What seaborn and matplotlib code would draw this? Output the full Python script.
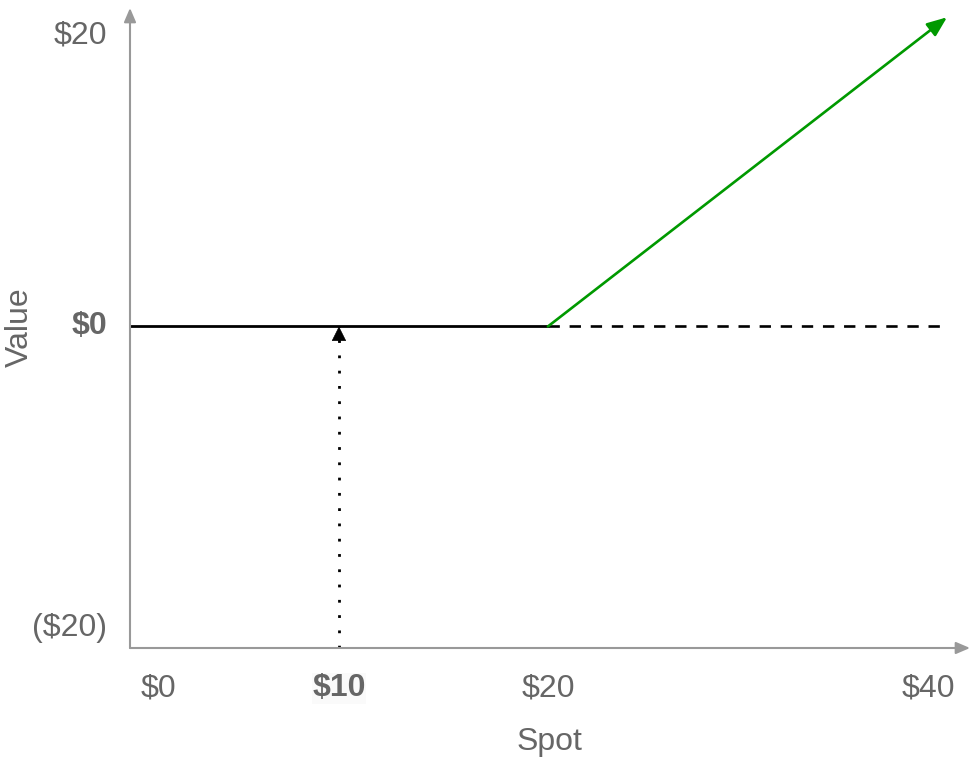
import matplotlib
matplotlib.use("Agg")
import matplotlib.pyplot as plt
import seaborn as sns
import pandas as pd

# ---- data ----
flat_x = [0, 20]
flat_y = [0, 0]
payoff_x = [20, 39.1]
payoff_y = [0, 20]
dashed_x = [20, 39.1]
dashed_y = [0, 0]
strike_x = [10, 10]
strike_y = [-20.8, 0]

xtick_labels = ["$0", "$10", "$20", "$40"]
ytick_labels = ["$20", "$0", "($20)"]

# label placement (where the labels sit in the drawing)
xtick_pos = [1.35, 10, 20, 38.2]
ytick_pos = [18.8, 0, -19.5]

sns.set_theme(style="white")
plt.rcParams["font.family"] = ["Liberation Sans", "DejaVu Sans"]

TXT = "#666666"
AX = "#999999"

fig = plt.figure(figsize=(9.78, 7.61), dpi=100)
ax = fig.add_axes([130 / 978, 113 / 761, 840 / 978, 640 / 761])
ax.set_xlim(0, 40.2)
ax.set_ylim(-20.8, 20.6)
for s in ax.spines.values():
    s.set_visible(False)
ax.set_xticks([])
ax.set_yticks([])
ax.set_facecolor("white")

# axes with arrows
ax.annotate("", xy=(1.0, 0), xytext=(0, 0), xycoords="axes fraction",
            arrowprops=dict(arrowstyle="-|>,head_length=0.7,head_width=0.3",
                            color=AX, lw=1.5, shrinkA=0, shrinkB=0))
ax.annotate("", xy=(0, 1.0), xytext=(0, 0), xycoords="axes fraction",
            arrowprops=dict(arrowstyle="-|>,head_length=0.7,head_width=0.3",
                            color=AX, lw=1.5, shrinkA=0, shrinkB=0))

# lines
sns.lineplot(x=flat_x, y=flat_y, ax=ax, color="black", lw=2.0)
ax.plot(dashed_x, dashed_y, color="black", lw=1.9, linestyle=(0, (4.3, 3.7)))
ax.plot(strike_x, strike_y, color="black", lw=2.0, linestyle=(0, (1, 4.5)))
ax.annotate("", xy=(payoff_x[1], payoff_y[1]), xytext=(payoff_x[0], payoff_y[0]),
            arrowprops=dict(arrowstyle="-|>,head_length=1.0,head_width=0.4",
                            color="#009900", lw=1.9, shrinkA=0, shrinkB=0))
ax.annotate("", xy=(strike_x[1], strike_y[1]), xytext=(strike_x[1], strike_y[1] - 1.0),
            arrowprops=dict(arrowstyle="-|>,head_length=0.8,head_width=0.4",
                            color="black", lw=0.5, shrinkA=0, shrinkB=0))

# tick labels
fs = 23
for p, lab in zip(xtick_pos, xtick_labels):
    bold = lab == "$10"
    t = ax.text(p, -23.4, lab, ha="center", va="center", fontsize=fs, color=TXT,
                fontweight="bold" if bold else "normal")
    if bold:
        t.set_bbox(dict(facecolor="#fafafa", edgecolor="none", pad=0.5))
for p, lab in zip(ytick_pos, ytick_labels):
    bold = lab == "$0"
    ax.text(-1.1, p, lab, ha="right", va="center", fontsize=fs, color=TXT,
            fontweight="bold" if bold else "normal")

fig.text(549 / 978, 1 - 742 / 761, "Spot", ha="center", va="center",
         fontsize=fs, color=TXT)
fig.text(20 / 978, 1 - 327 / 761, "Value", ha="center", va="center",
         fontsize=fs, color=TXT, rotation=90)

fig.savefig("out.png", dpi=100, facecolor="white")
